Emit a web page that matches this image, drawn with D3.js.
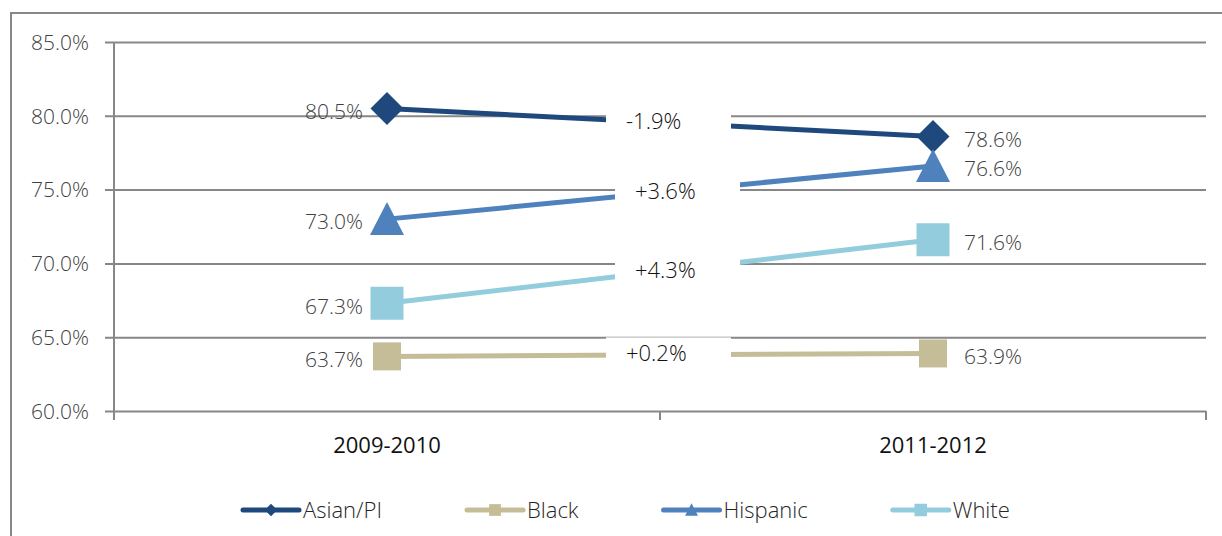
<!DOCTYPE html>
<html>
<head>
<meta charset="utf-8">
<script src="https://cdn.jsdelivr.net/npm/d3@7"></script>
<style>
  html, body { margin: 0; padding: 0; background: #fff; }
  svg { display: block; }
  svg text { font-family: "Open Sans", "Noto Sans", sans-serif; }
</style>
</head>
<body>
<svg id="chart" width="1222" height="536"></svg>
<script>
// Graduation rates by race/ethnicity, two school-year cohorts
const periods = ["2009-2010", "2011-2012"];
const groups = ["Asian/PI", "Black", "Hispanic", "White"];
const asianPI = [80.5, 78.6];
const black = [63.7, 63.9];
const hispanic = [73.0, 76.6];
const white = [67.3, 71.6];
const yTicks = [60, 65, 70, 75, 80, 85];

const seriesValues = [asianPI, black, hispanic, white];
const colors = ["#1F497D", "#C4BD97", "#4F81BD", "#93CDDD"];
const markers = ["diamond", "bigSquare", "triangle", "square"];

const W = 1222, H = 536;
const plot = { left: 114, right: 1206, top: 42, bottom: 411 };
const gridColor = "#878787";
const FONT = '"Open Sans", "Noto Sans", sans-serif';

const svg = d3.select("#chart");

// outer chart frame (extends past the right and bottom edges)
svg.append("rect")
  .attr("x", 11).attr("y", 13)
  .attr("width", W + 20).attr("height", H + 20)
  .attr("fill", "none").attr("stroke", gridColor).attr("stroke-width", 2);

const x = d3.scaleBand().domain(periods).range([plot.left, plot.right]).padding(0);
const y = d3.scaleLinear().domain([60, 85]).range([plot.bottom, plot.top]);
const cx = p => x(p) + x.bandwidth() / 2;

// horizontal gridlines + y axis labels
const yAxis = d3.axisLeft(y).tickValues(yTicks)
  .tickSize(-(plot.right - plot.left)).tickSizeOuter(0)
  .tickFormat(d => d3.format(".1f")(d) + "%");
const gy = svg.append("g").attr("transform", `translate(${plot.left},0)`).call(yAxis)
  .attr("font-family", FONT);
gy.select(".domain").remove();
gy.selectAll(".tick line").attr("stroke", gridColor).attr("stroke-width", 2).attr("x1", -9);
gy.selectAll(".tick text")
  .attr("x", -25).attr("dy", "0.35em")
  .attr("fill", "#404040").attr("font-size", 21).attr("font-weight", 300);

// vertical axis line
svg.append("line")
  .attr("x1", plot.left).attr("x2", plot.left)
  .attr("y1", plot.top).attr("y2", plot.bottom + 9)
  .attr("stroke", gridColor).attr("stroke-width", 2);

// category axis
const xAxis = d3.axisBottom(x).tickSize(0).tickSizeOuter(0);
const gx = svg.append("g").attr("transform", `translate(0,${plot.bottom})`).call(xAxis)
  .attr("font-family", FONT);
gx.select(".domain").remove();
gx.selectAll(".tick text")
  .attr("y", 34).attr("dy", "0.35em")
  .attr("fill", "#111").attr("font-size", 22);
// category boundary ticks
const bounds = periods.map(p => x(p)).concat([x(periods[periods.length - 1]) + x.bandwidth()]);
svg.selectAll(".xtick").data(bounds).join("line")
  .attr("class", "xtick")
  .attr("x1", d => d).attr("x2", d => d)
  .attr("y1", plot.bottom).attr("y2", plot.bottom + 9)
  .attr("stroke", gridColor).attr("stroke-width", 2);

// marker shapes
function markerPath(type, scale) {
  const s = scale || 1;
  if (type === "diamond") {
    const r = 16.5 * s;
    return `M0,${-r}L${r},0L0,${r}L${-r},0Z`;
  }
  if (type === "triangle") {
    const w = 17 * s, h = 33 * s;
    return `M0,${-h / 2 - 0.5}L${w},${h / 2 - 0.5}L${-w},${h / 2 - 0.5}Z`;
  }
  if (type === "square") {
    const r = 16.5 * s;
    return `M${-r},${-r}H${r}V${r}H${-r}Z`;
  }
  const r = 14 * s;
  return `M${-r},${-r}H${r}V${r}H${-r}Z`;
}

const line = d3.line().x((d, i) => cx(periods[i])).y(d => y(d));

// series lines and markers
seriesValues.forEach((vals, k) => {
  const g = svg.append("g");
  g.append("path").datum(vals)
    .attr("d", line)
    .attr("fill", "none").attr("stroke", colors[k]).attr("stroke-width", 5);
  g.selectAll("path.m").data(vals).join("path")
    .attr("class", "m")
    .attr("transform", (d, i) => `translate(${cx(periods[i])},${y(d)})`)
    .attr("d", markerPath(markers[k]))
    .attr("fill", colors[k]);
});

// change labels on white boxes at the middle of each line
const labelShift = [8, 8, 17, 17];
const fmtChange = d => (d >= 0 ? "+" : "-") + Math.abs(d).toFixed(1) + "%";
seriesValues.forEach((vals, k) => {
  const change = Math.round((vals[1] - vals[0]) * 10) / 10;
  const mx = (cx(periods[0]) + cx(periods[1])) / 2 + labelShift[k];
  const my = y((vals[0] + vals[1]) / 2) - 1.5;
  svg.append("rect")
    .attr("x", mx - 62).attr("y", my - 16)
    .attr("width", 125).attr("height", 32)
    .attr("fill", "#fff");
  svg.append("text")
    .attr("x", mx - 42).attr("y", my).attr("dy", "0.35em")
    .attr("fill", "#111").attr("font-size", 22).attr("font-weight", 300)
    .text(fmtChange(change));
});

// value labels at each end
const fmtVal = d => d.toFixed(1) + "%";
seriesValues.forEach((vals, k) => {
  vals.forEach((v, i) => {
    const left = i === 0;
    svg.append("text")
      .attr("x", left ? cx(periods[i]) - 24 : cx(periods[i]) + 31)
      .attr("y", y(v) + 3).attr("dy", "0.35em")
      .attr("text-anchor", left ? "end" : "start")
      .attr("fill", "#404040").attr("font-size", 21).attr("font-weight", 300)
      .text(fmtVal(v));
  });
});

// legend
const legend = svg.append("g").attr("transform", "translate(243,510)");
let lx = 0;
groups.forEach((name, k) => {
  const item = legend.append("g").attr("transform", `translate(${lx},0)`);
  item.append("line")
    .attr("x1", 0).attr("x2", 56).attr("y1", 0).attr("y2", 0)
    .attr("stroke", colors[k]).attr("stroke-width", 5).attr("stroke-linecap", "round");
  item.append("path")
    .attr("transform", "translate(28,0)")
    .attr("d", markerPath(markers[k], markers[k] === "bigSquare" ? 0.42 : 0.38))
    .attr("fill", colors[k]);
  const t = item.append("text")
    .attr("x", 60).attr("dy", "0.35em")
    .attr("fill", "#262626").attr("font-size", 22).attr("font-weight", 300)
    .text(name);
  lx += 60 + t.node().getComputedTextLength() + 85;
});
</script>
</body>
</html>
